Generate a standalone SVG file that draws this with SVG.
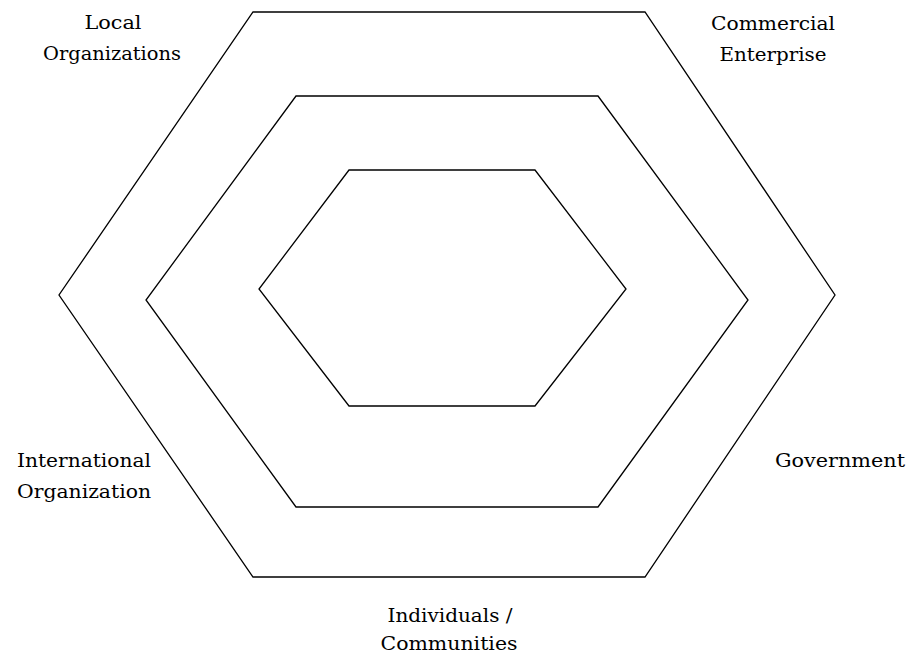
<svg xmlns="http://www.w3.org/2000/svg" width="911" height="654" viewBox="0 0 911 654">
<style>
.hex{fill:none;stroke:#000;stroke-width:1.3}
.t{font-family:'DejaVu Serif','Liberation Serif',serif;font-size:18px;fill:#000;text-anchor:middle}
</style>
<rect width="911" height="654" fill="#fff"/>
<g id="connectors"></g>
<g id="outer"><polygon class="hex" points="253,12 645,12 835,295 645,577 253,577 59,295"/></g>
<g id="middle"><polygon class="hex" points="296,96 598,96 748,300 598,507 296,507 146,300"/></g>
<g id="inner"><polygon class="hex" points="349,170 535,170 626,289 535,406 349,406 259,289"/></g>
<g id="local"><text class="t" x="113" y="29" textLength="57" lengthAdjust="spacingAndGlyphs">Local</text><text class="t" x="112" y="60" textLength="138" lengthAdjust="spacingAndGlyphs">Organizations</text></g>
<g id="commercial"><text class="t" x="773" y="30" textLength="124" lengthAdjust="spacingAndGlyphs">Commercial</text><text class="t" x="773" y="61" textLength="107" lengthAdjust="spacingAndGlyphs">Enterprise</text></g>
<g id="international"><text class="t" x="84" y="467" textLength="134" lengthAdjust="spacingAndGlyphs">International</text><text class="t" x="84" y="498" textLength="134" lengthAdjust="spacingAndGlyphs">Organization</text></g>
<g id="government"><text class="t" x="840" y="467" textLength="130" lengthAdjust="spacingAndGlyphs">Government</text></g>
<g id="individuals"><text class="t" x="450" y="622" textLength="125" lengthAdjust="spacingAndGlyphs">Individuals /</text><text class="t" x="449" y="650" textLength="137" lengthAdjust="spacingAndGlyphs">Communities</text></g>
</svg>
